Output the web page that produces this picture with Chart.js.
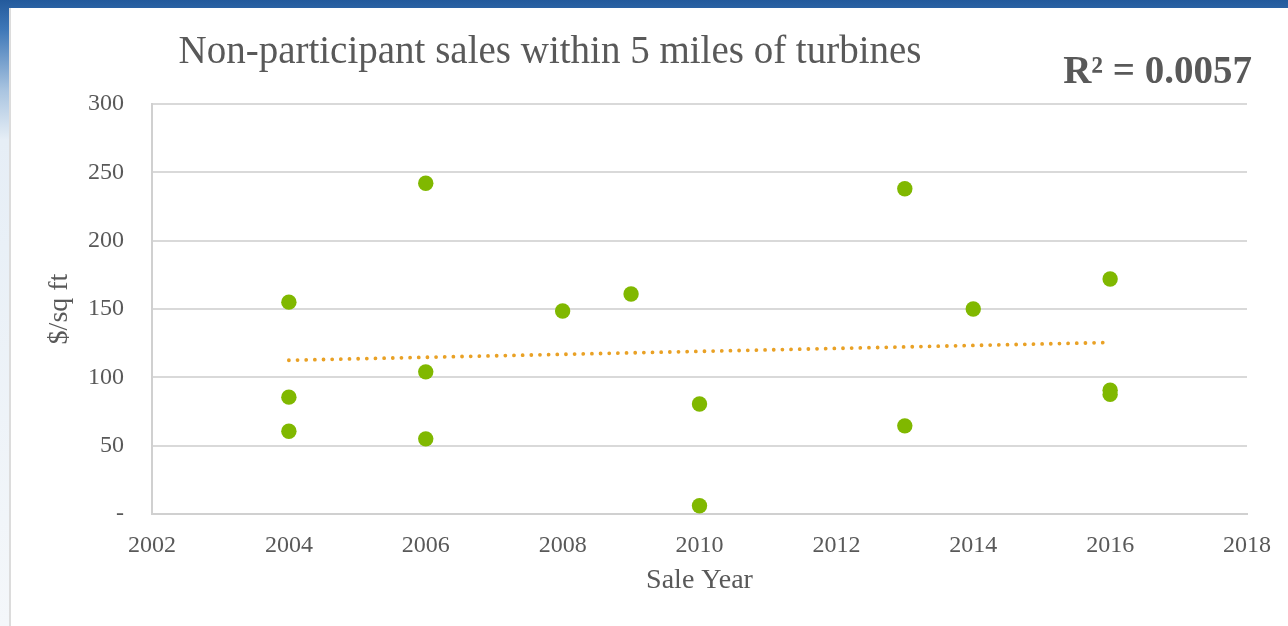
<!DOCTYPE html>
<html>
<head>
<meta charset="utf-8">
<script src="https://cdn.jsdelivr.net/npm/chart.js@4"></script>
<style>
  html, body { margin: 0; padding: 0; }
  body {
    width: 1288px; height: 626px; overflow: hidden; position: relative;
    background: linear-gradient(to bottom, #235a9c 0px, #3f78b8 30px, #a9c4e0 90px, #e6eef6 140px, #f4f7fa 626px);
  }
  #panel {
    position: absolute; left: 9px; top: 8px; right: 0; bottom: 0;
    background: #fff; border-left: 2px solid #dcdcdc;
  }
  #wrap { position: absolute; left: 0; top: 0; width: 1288px; height: 626px; }
</style>
</head>
<body>
<div id="panel"></div>
<div id="wrap"><canvas id="scatterChart" width="1288" height="626"></canvas></div>
<script>
// Sale year and price per sq ft
const saleYears = [2004, 2004, 2004, 2006, 2006, 2006, 2008, 2009, 2010, 2010, 2013, 2013, 2014, 2016, 2016, 2016];
const pricePerSqFt = [155, 85.5, 60.5, 242, 104, 55, 148.5, 161, 80.5, 6, 238, 64.5, 150, 172, 90.5, 87.5];

// Linear trendline ends (as drawn)
const trendYears = [2004, 2016];
const trendValues = [112.5, 125.5];

const chartTitle = "Non-participant sales within 5 miles of turbines";
const rSquaredLabel = "R\u00b2 = 0.0057";

const textColor = "#595959";
const serif = "'Liberation Serif', 'Times New Roman', serif";

// Draw chart title and R² label
const headerText = {
  id: "headerText",
  afterDraw(chart) {
    const ctx = chart.ctx;
    ctx.save();
    ctx.fillStyle = textColor;
    ctx.textBaseline = "alphabetic";
    ctx.font = "39px " + serif;
    ctx.textAlign = "center";
    ctx.fillText(chartTitle, 550, 63);
    ctx.font = "bold 39px " + serif;
    ctx.textAlign = "right";
    ctx.fillText(rSquaredLabel, 1252, 83);
    ctx.restore();
  }
};

document.addEventListener("DOMContentLoaded", function () {
  const ctx = document.getElementById("scatterChart");

  new Chart(ctx, {
    type: "scatter",
    data: {
      datasets: [
        {
          label: "Trend",
          type: "line",
          data: trendYears.map((x, i) => ({ x: x, y: trendValues[i] })),
          borderColor: "#e9a125",
          borderWidth: 3.8,
          borderDash: [0.01, 8.65],
          borderCapStyle: "round",
          pointRadius: 0,
          fill: false,
          order: 2
        },
        {
          label: "Sales",
          data: saleYears.map((x, i) => ({ x: x, y: pricePerSqFt[i] })),
          backgroundColor: "#80b800",
          borderColor: "#80b800",
          borderWidth: 0,
          pointRadius: 7.7,
          order: 1
        }
      ]
    },
    options: {
      responsive: false,
      animation: false,
      layout: { padding: { left: 10, right: 40, top: 104, bottom: 10 } },
      plugins: {
        legend: { display: false },
        tooltip: { enabled: false }
      },
      scales: {
        x: {
          type: "linear",
          min: 2002,
          max: 2018,
          afterFit: s => { s.height = 102; },
          ticks: {
            stepSize: 2,
            color: textColor,
            font: { family: serif, size: 24 },
            padding: 17,
            callback: v => String(v)
          },
          grid: { display: false, drawTicks: false },
          border: { display: true, color: "#d0d0d0", width: 2 },
          title: {
            display: true,
            text: "Sale Year",
            color: textColor,
            font: { family: serif, size: 28 },
            padding: { top: 0, bottom: 19 }
          }
        },
        y: {
          min: 0,
          max: 300,
          afterFit: s => { s.width = 142; },
          ticks: {
            stepSize: 50,
            color: textColor,
            font: { family: serif, size: 24 },
            padding: 28,
            callback: v => (v === 0 ? "-" : String(v))
          },
          grid: { color: "#d9d9d9", lineWidth: 2, drawTicks: false },
          border: { display: true, color: "#d0d0d0", width: 2 },
          title: {
            display: true,
            text: "$/sq ft",
            color: textColor,
            font: { family: serif, size: 28 },
            padding: { top: 33, bottom: 0 }
          }
        }
      }
    },
    plugins: [headerText]
  });
});
</script>
</body>
</html>
